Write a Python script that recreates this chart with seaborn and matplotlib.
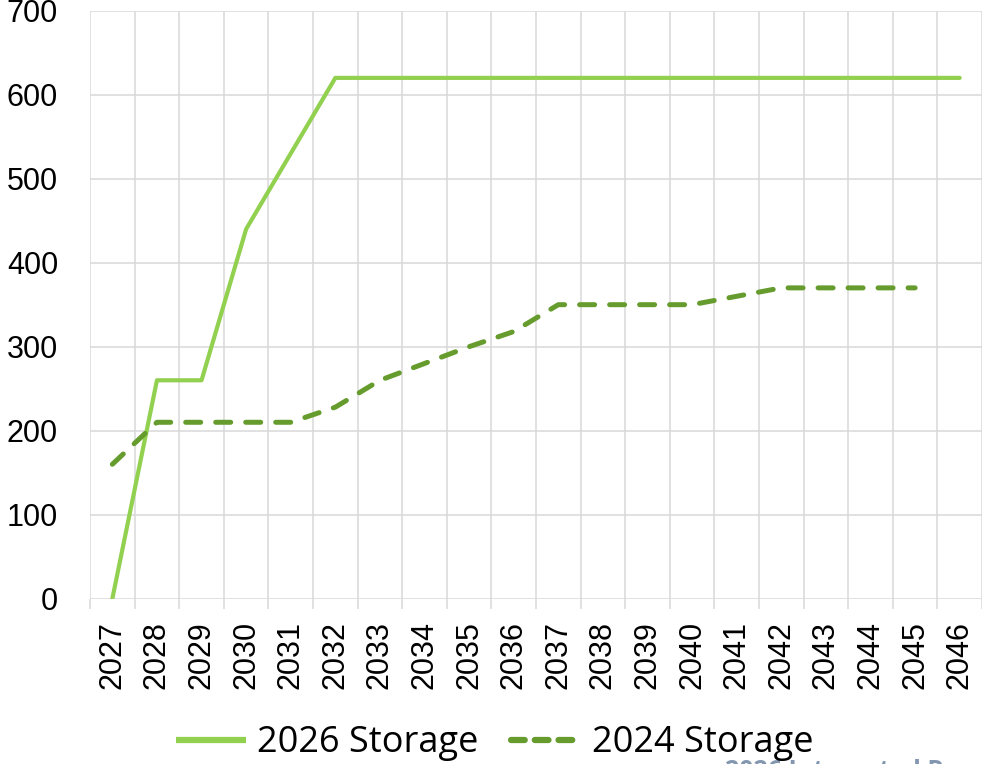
import pandas as pd
import numpy as np
import matplotlib
matplotlib.use("Agg")
import matplotlib.pyplot as plt
import seaborn as sns
from matplotlib.lines import Line2D

# --- DATA ---
years = list(range(2027, 2047))
storage_2026 = [0, 260, 260, 440, 530, 620, 620, 620, 620, 620,
                620, 620, 620, 620, 620, 620, 620, 620, 620, 620]
storage_2024 = [160, 210, 210, 210, 210, 228, 260, 280, 300, 318,
                350, 350, 350, 350, 360, 370, 370, 370, 370, np.nan]
series_names = ['2026 Storage', '2024 Storage']
y_ticks = [0, 100, 200, 300, 400, 500, 600, 700]

df = pd.concat([
    pd.DataFrame({'year': years, 'value': storage_2026, 'series': series_names[0]}),
    pd.DataFrame({'year': years, 'value': storage_2024, 'series': series_names[1]}),
], ignore_index=True)

# --- PLOT ---
sns.set_theme(style="white")
plt.rcParams['font.family'] = ['Liberation Sans', 'DejaVu Sans']

fig = plt.figure(figsize=(9.82, 7.64), dpi=100)
ax = fig.add_axes([0.0917, 0.2164, 1.0 - 0.0917, 0.986 - 0.2164])

colors = {'2026 Storage': '#92D050', '2024 Storage': '#669C2E'}
dashes = {'2026 Storage': '', '2024 Storage': (3, 3)}
sns.lineplot(data=df, x='year', y='value', hue='series', style='series',
             palette=colors, dashes=dashes, ax=ax, legend=False)

for line, lw in zip(ax.lines, [3.0, 3.6]):
    line.set_linewidth(lw)
    line.set_dash_capstyle('round')
    line.set_solid_capstyle('round')
    line.set_solid_joinstyle('round')

ax.set_xlim(years[0] - 0.5, years[-1] + 0.5)
ax.set_ylim(0, 700)
ax.set_yticks(y_ticks)
ax.set_xticks(years)
ax.set_xticks([y - 0.5 for y in years] + [years[-1] + 0.5], minor=True)
ax.set_xticklabels([str(y) for y in years], rotation=90)
ax.set_xlabel('')
ax.set_ylabel('')

ax.grid(axis='y', which='major', color='#D9D9D9', linewidth=1.1)
ax.grid(axis='x', which='minor', color='#D9D9D9', linewidth=1.1)
ax.grid(axis='x', which='major', visible=False)
ax.set_axisbelow(True)
for s in ax.spines.values():
    s.set_visible(False)

ax.tick_params(axis='x', which='major', length=0, pad=16, labelsize=22, colors='black')
ax.tick_params(axis='x', which='minor', length=7.2, width=1.1, color='#D9D9D9', bottom=True)
ax.tick_params(axis='y', which='major', length=0, pad=23, labelsize=22, colors='black')

# legend at the bottom
handles = [
    Line2D([], [], color=colors['2026 Storage'], linewidth=4.5, solid_capstyle='butt'),
    Line2D([], [], color=colors['2024 Storage'], linewidth=4.5, linestyle=(0, (2.2, 1.6)),
           dash_capstyle='round'),
]
fig.legend(handles, series_names, loc='center', bbox_to_anchor=(0.504, 0.027),
           ncol=2, frameon=False, handlelength=1.95, handletextpad=0.3,
           columnspacing=0.9, labelcolor='black',
           prop={'family': ['Open Sans', 'DejaVu Sans'], 'size': 26})

# footer text cut off at the bottom edge, as in the source
fig.text(0.738, 0.006, '2026 Integrated Resource Plan', va='top', ha='left',
         color='#8497B0', fontsize=18, fontweight='bold',
         family=['Open Sans', 'DejaVu Sans'])

fig.savefig('out.png', dpi=100)
